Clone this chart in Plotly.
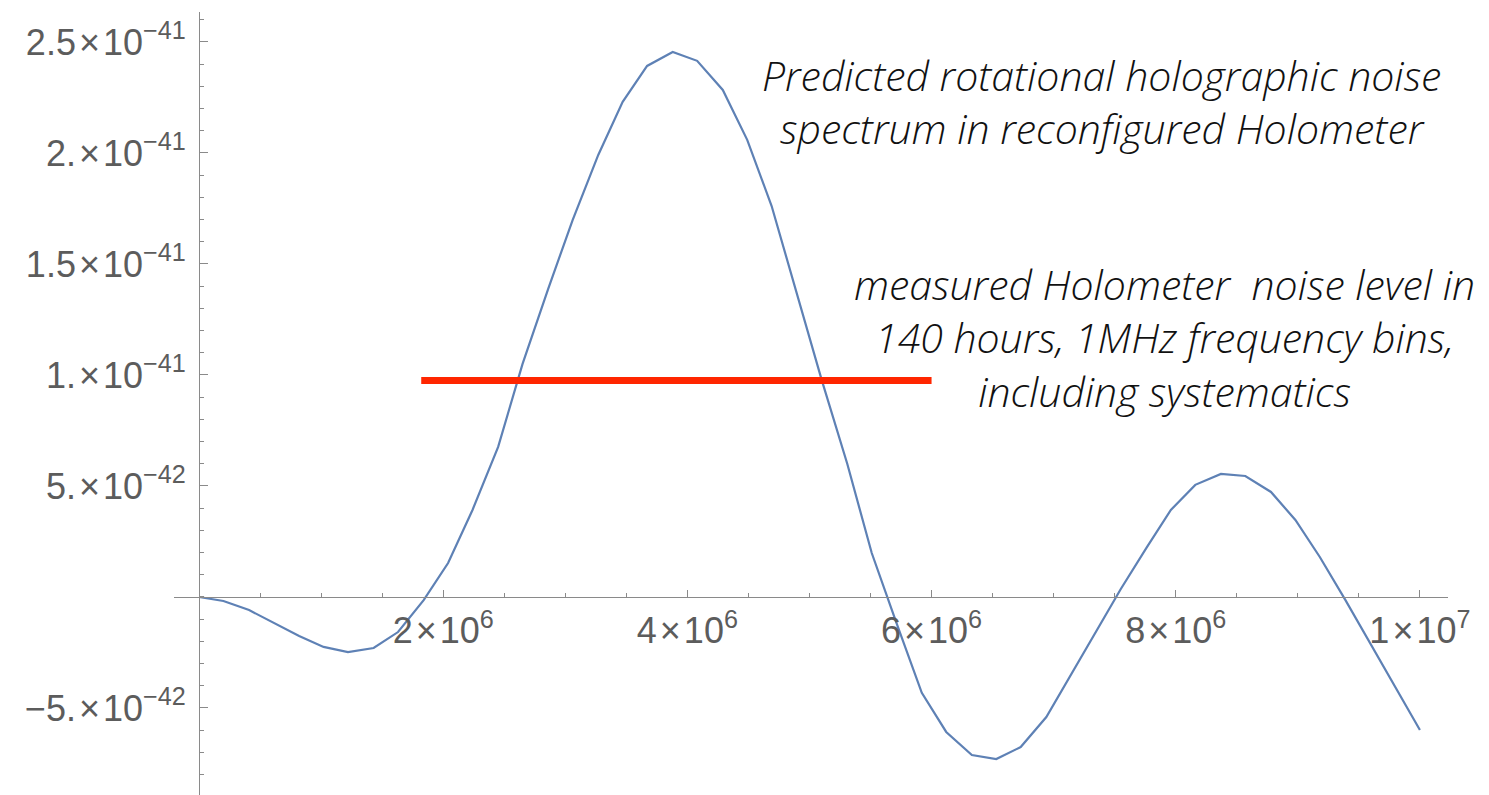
import plotly.graph_objects as go

# frequency samples (units of 1e6 Hz) and predicted spectrum (units of 1e-42)
freq_mhz = [0.0, 0.20, 0.41, 0.61, 0.82, 1.02, 1.22, 1.43, 1.63, 1.84,
            2.04, 2.24, 2.45, 2.65, 2.86, 3.06, 3.27, 3.47, 3.67, 3.88,
            4.08, 4.29, 4.49, 4.69, 4.90, 5.10, 5.31, 5.51, 5.71, 5.92,
            6.12, 6.33, 6.53, 6.73, 6.94, 7.14, 7.35, 7.55, 7.76, 7.96,
            8.16, 8.37, 8.57, 8.78, 8.98, 9.18, 9.39, 9.59, 9.80, 10.0]
noise_e42 = [0.0, -0.18, -0.59, -1.17, -1.76, -2.25, -2.48, -2.30, -1.58, -0.14,
             1.53, 3.92, 6.76, 10.50, 13.88, 16.98, 19.91, 22.30, 23.92, 24.55,
             24.15, 22.84, 20.59, 17.61, 13.56, 9.78, 5.99, 1.98, -1.13, -4.32,
             -6.08, -7.12, -7.30, -6.76, -5.41, -3.51, -1.53, 0.36, 2.21, 3.92,
             5.05, 5.54, 5.45, 4.73, 3.47, 1.80, -0.14, -2.07, -4.05, -5.99]

# measured noise level (red bar)
measured_mhz = [1.82, 6.0]
measured_e42 = [9.75, 9.75]

x_tick_vals = [2e6, 4e6, 6e6, 8e6, 1e7]
x_tick_text = ["2\u200a\u00d7\u200a10<sup>6</sup>", "4\u200a\u00d7\u200a10<sup>6</sup>",
               "6\u200a\u00d7\u200a10<sup>6</sup>", "8\u200a\u00d7\u200a10<sup>6</sup>",
               "1\u200a\u00d7\u200a10<sup>7</sup>"]
y_tick_vals = [-5e-42, 5e-42, 1e-41, 1.5e-41, 2e-41, 2.5e-41]
y_tick_text = ["\u22125.\u200a\u00d7\u200a10<sup>\u221242</sup>", "5.\u200a\u00d7\u200a10<sup>\u221242</sup>",
               "1.\u200a\u00d7\u200a10<sup>\u221241</sup>", "1.5\u200a\u00d7\u200a10<sup>\u221241</sup>",
               "2.\u200a\u00d7\u200a10<sup>\u221241</sup>", "2.5\u200a\u00d7\u200a10<sup>\u221241</sup>"]

x_range = [-0.205e6, 10.23e6]
y_range = [-8.92e-42, 2.635e-41]

fig = go.Figure()
fig.add_trace(go.Scatter(x=[f * 1e6 for f in freq_mhz], y=[v * 1e-42 for v in noise_e42],
                         mode="lines", line=dict(color="#5E81B5", width=2.2)))
fig.add_trace(go.Scatter(x=[f * 1e6 for f in measured_mhz], y=[v * 1e-42 for v in measured_e42],
                         mode="lines", line=dict(color="#FF2600", width=7)))

axis_col = "#8a8a8a"
tick_font = dict(family="Liberation Sans, Arial, sans-serif", size=36, color="#5c5c5c")

fig.update_xaxes(range=x_range, tickvals=x_tick_vals, ticktext=x_tick_text, automargin=False,
                 showgrid=False, zeroline=False, showline=True, linecolor=axis_col, linewidth=1.2,
                 ticks="inside", ticklen=7, tickcolor=axis_col, tickwidth=1.2,
                 minor=dict(dtick=5e5, ticks="inside", ticklen=4, tickcolor=axis_col, tickwidth=1.2),
                 tickfont=tick_font, anchor="free", ticklabelstandoff=2,
                 position=(0 - y_range[0]) / (y_range[1] - y_range[0]))
fig.update_yaxes(range=y_range, tickvals=y_tick_vals, ticktext=y_tick_text, automargin=False,
                 showgrid=False, zeroline=False, showline=True, linecolor=axis_col, linewidth=1.2,
                 ticks="inside", ticklen=8, tickcolor=axis_col, tickwidth=1.2,
                 minor=dict(dtick=1e-42, ticks="inside", ticklen=4, tickcolor=axis_col, tickwidth=1.2),
                 tickfont=tick_font, anchor="free", ticklabelstandoff=6,
                 position=(0 - x_range[0]) / (x_range[1] - x_range[0]))

ann_font = dict(family="Open Sans, Liberation Sans, sans-serif", size=41, color="#111111",
                style="italic", weight=300)
notes = [
    ("Predicted rotational holographic noise<br>spectrum in reconfigured Holometer", 7.39e6, 2.232e-41),
    ("measured Holometer \u00a0noise level in<br>140 hours, 1MHz frequency bins,<br>including systematics",
     7.91e6, 1.171e-41),
]
for txt, xa, ya in notes:
    fig.add_annotation(text=txt, x=xa, y=ya, xref="x", yref="y", showarrow=False, align="center",
                       xanchor="center", yanchor="middle", font=ann_font)

# page body adds an 8px offset, margins compensate for it
fig.update_layout(width=1489, height=795, showlegend=False,
                  margin=dict(l=166, r=49, t=4, b=8),
                  plot_bgcolor="white", paper_bgcolor="white")

fig.write_html("out.html")
